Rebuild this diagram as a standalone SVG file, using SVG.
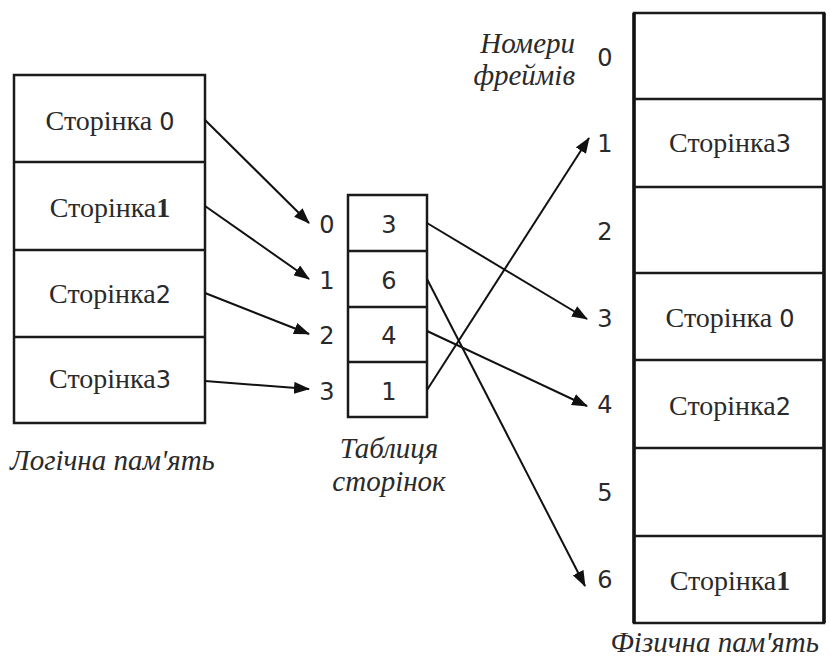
<svg xmlns="http://www.w3.org/2000/svg" width="830" height="663" viewBox="0 0 830 663">
  <style>
    .box { fill: #fff; stroke: #1a1a1a; stroke-width: 2.5; }
    .sep { stroke: #1a1a1a; stroke-width: 2.5; }
    .page { font-family: "Liberation Serif", "DejaVu Serif", serif; font-size: 28px; fill: #2a2a2a; text-anchor: middle; }
    .dig { font-family: "DejaVu Sans", "Liberation Sans", sans-serif; font-size: 24px; }
    .bd { font-weight: bold; }
    .num { font-family: "DejaVu Sans", "Liberation Sans", sans-serif; font-size: 24px; fill: #2a2a2a; }
    .cap { font-family: "Liberation Serif", "DejaVu Serif", serif; font-style: italic; font-size: 29px; fill: #2a2a2a; }
    .arrow { stroke: #111; stroke-width: 2; fill: none; marker-end: url(#head); }
  </style>
  <defs>
    <marker id="head" viewBox="0 0 16 12" refX="15" refY="6" markerWidth="16" markerHeight="12" markerUnits="userSpaceOnUse" orient="auto">
      <path d="M0,0 L16,6 L0,12 Z" fill="#111"/>
    </marker>
  </defs>
  <rect width="830" height="663" fill="#fff"/>

  <!-- logical memory -->
  <g id="logical-memory">
    <rect class="box" x="14" y="75" width="191" height="348"/>
    <line class="sep" x1="14" y1="162" x2="205" y2="162"/>
    <line class="sep" x1="14" y1="250" x2="205" y2="250"/>
    <line class="sep" x1="14" y1="337" x2="205" y2="337"/>
    <text class="page" x="110" y="130">Сторінка <tspan class="dig">0</tspan></text>
    <text class="page" x="110" y="217">Сторінка<tspan class="bd">1</tspan></text>
    <text class="page" x="110" y="303">Сторінка<tspan class="dig">2</tspan></text>
    <text class="page" x="110" y="388">Сторінка<tspan class="dig">3</tspan></text>
    <text class="cap" x="10" y="470">Логічна пам'ять</text>
  </g>

  <!-- page table -->
  <g id="page-table">
    <rect class="box" x="348" y="195" width="79" height="222"/>
    <line class="sep" x1="348" y1="251" x2="427" y2="251"/>
    <line class="sep" x1="348" y1="307" x2="427" y2="307"/>
    <line class="sep" x1="348" y1="362" x2="427" y2="362"/>
    <g class="num" text-anchor="middle">
      <text x="389" y="233">3</text>
      <text x="389" y="289">6</text>
      <text x="389" y="344">4</text>
      <text x="389" y="400">1</text>
    </g>
    <g class="num" text-anchor="middle">
      <text x="327" y="233">0</text>
      <text x="327" y="289">1</text>
      <text x="327" y="344">2</text>
      <text x="327" y="400">3</text>
    </g>
    <text class="cap" x="389" y="458" text-anchor="middle" font-size="28">Таблиця</text>
    <text class="cap" x="389" y="491" text-anchor="middle" font-size="28">сторінок</text>
  </g>

  <!-- physical memory -->
  <g id="physical-memory">
    <rect class="box" x="634" y="13" width="190" height="610"/>
    <line x1="634" y1="13" x2="634" y2="623" stroke="#111" stroke-width="3.5"/>
    <line x1="824" y1="13" x2="824" y2="623" stroke="#111" stroke-width="3.5"/>
    <line class="sep" x1="634" y1="99" x2="824" y2="99"/>
    <line class="sep" x1="634" y1="187" x2="824" y2="187"/>
    <line class="sep" x1="634" y1="273" x2="824" y2="273"/>
    <line class="sep" x1="634" y1="360" x2="824" y2="360"/>
    <line class="sep" x1="634" y1="448" x2="824" y2="448"/>
    <line class="sep" x1="634" y1="536" x2="824" y2="536"/>
    <text class="page" x="730" y="152">Сторінка<tspan class="dig">3</tspan></text>
    <text class="page" x="730" y="327">Сторінка <tspan class="dig">0</tspan></text>
    <text class="page" x="730" y="415">Сторінка<tspan class="dig">2</tspan></text>
    <text class="page" x="730" y="590">Сторінка<tspan class="bd">1</tspan></text>
    <g class="num" text-anchor="middle">
      <text x="605" y="66">0</text>
      <text x="605" y="152">1</text>
      <text x="605" y="240">2</text>
      <text x="605" y="327">3</text>
      <text x="605" y="413">4</text>
      <text x="605" y="501">5</text>
      <text x="605" y="588">6</text>
    </g>
    <text class="cap" x="575" y="53" text-anchor="end">Номери</text>
    <text class="cap" x="575" y="85" text-anchor="end">фреймів</text>
    <text class="cap" x="819" y="652" text-anchor="end">Фізична пам'ять</text>
  </g>

  <!-- connectors -->
  <g id="connectors">
    <line class="arrow" x1="205" y1="120" x2="309" y2="223"/>
    <line class="arrow" x1="205" y1="206" x2="309" y2="279"/>
    <line class="arrow" x1="205" y1="293" x2="309" y2="334"/>
    <line class="arrow" x1="205" y1="381" x2="309" y2="389"/>
    <line class="arrow" x1="427" y1="223" x2="587" y2="319"/>
    <line class="arrow" x1="427" y1="279" x2="585" y2="586"/>
    <line class="arrow" x1="427" y1="331" x2="587" y2="406"/>
    <line class="arrow" x1="427" y1="390" x2="589" y2="138"/>
  </g>
</svg>
